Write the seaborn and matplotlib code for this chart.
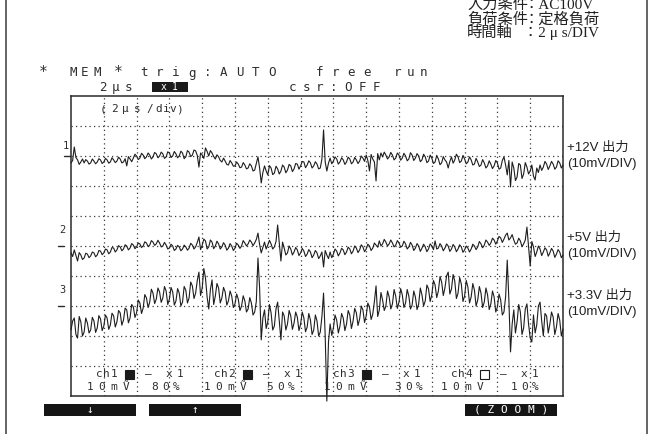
import numpy as np
import pandas as pd
import matplotlib
matplotlib.use("Agg")
import matplotlib.pyplot as plt
import seaborn as sns
from matplotlib.patches import Rectangle
from matplotlib.lines import Line2D

# ---------------- data (mV relative to each channel's ground marker) -------------
time_us = np.linspace(0, 30, 301)          # 2 us/div, 15 divisions, 0.1 us steps

ch1_mv = [-2.3, -1.5, 3.0, -0.5, -1.3, -2.8, -2.0, -1.0, -2.3, -1.2, -1.7, -2.7, -2.3, -1.0, -1.7, -2.6, -2.0, -0.9, -1.3, -2.5,
          -2.0, -0.8, -1.3, -2.4, -2.0, -0.6, -1.3, -2.2, -1.7, -0.4, -1.0, -2.3, -2.0, -0.9, -3.3, -0.2, -1.0, -1.9, -0.7, 0.6,
          0.0, -1.2, -0.7, 0.9, 0.3, -0.9, -0.3, 1.0, 0.3, -1.0, -0.3, 1.2, 0.7, -0.6, 0.0, 1.3, 0.7, -0.8, -0.3, 1.4,
          1.0, -0.5, 0.0, 1.5, 0.7, -0.6, 0.0, 1.6, 1.0, -0.9, -0.3, 1.8, 1.3, -0.2, 0.3, 2.0, 1.7, 0.2, -3.7, 1.0,
          0.3, -0.8, 2.7, 1.5, 0.0, 1.8, 1.0, -0.2, -1.0, 0.4, -0.3, -1.5, -2.0, -0.7, -1.7, -2.8, -3.0, -1.5, -2.3, -3.4,
          -3.3, -2.0, -2.7, -3.9, -3.7, -2.2, -3.0, -4.3, -4.0, -2.6, -3.3, -5.0, -4.7, -2.5, -0.3, -4.0, -9.0, -5.5, -3.3, -5.0,
          -6.3, -3.2, -4.0, -6.2, -5.7, -3.4, -4.3, -6.0, -5.0, -3.0, -3.7, -5.6, -4.7, -2.8, -3.3, -5.2, -4.3, -2.5, -2.7, -4.4,
          -3.3, -1.8, -2.0, -3.9, -3.0, -1.6, -2.3, -4.0, -3.3, -1.9, -2.7, -4.3, -4.0, -1.0, 8.7, -2.0, -5.0, -2.4, -0.7, -2.6,
          -1.7, -0.3, -1.0, -2.7, -2.0, -0.6, -1.3, -2.8, -2.0, -0.4, -1.0, -2.6, -2.0, -0.5, -1.3, -2.5, -1.7, 0.0, -0.7, -1.8,
          0.3, -1.5, -5.0, 0.5, -1.0, -2.0, -8.3, 0.8, -1.3, 1.0, -0.3, 1.3, 0.3, -1.0, -0.3, 1.2, 0.3, -1.3, -0.7, 1.0,
          0.3, -1.4, -0.7, 0.9, 0.0, -1.6, -1.0, 1.1, 0.3, -1.5, -0.7, 0.8, 0.0, -1.9, -1.3, 0.6, -0.3, -2.2, -1.7, 0.3,
          -0.7, -2.5, -2.0, 0.2, -1.0, -2.9, -2.3, -0.2, -1.3, -2.0, -4.0, -1.8, -0.3, -2.4, -1.3, 0.6, -0.3, -2.2, -1.7, 0.2,
          -1.0, -2.6, -2.0, -0.3, -1.3, -3.0, -2.7, -0.8, -2.0, -3.5, -3.0, -1.2, -2.3, -4.0, -3.3, -1.6, -2.7, -4.2, -3.3, -1.5,
          -2.3, -4.4, -4.0, -1.5, -0.3, -3.0, -6.3, -1.5, -10.3, -2.0, -4.0, -8.2, -7.0, -2.5, -3.0, -7.5, -6.0, -2.2, -3.7, -6.0,
          -5.0, -3.0, -6.7, -8.0, -4.0, -5.5, -3.0, -4.8, -3.7, -1.8, -2.7, -4.5, -3.3, -1.8, -2.7, -4.4, -3.7, -1.6, -2.3, -4.0,
          -3.0]

ch2_mv = [-2.3, -3.5, -1.3, -3.2, -5.0, -2.2, -3.0, -4.5, -4.0, -2.4, -2.7, -3.9, -3.3, -2.0, -2.3, -3.6, -3.0, -1.5, -1.7, -2.9,
          -2.3, -1.0, -1.3, -2.6, -2.0, -0.5, -0.7, -2.0, -1.3, 0.1, -0.3, -1.6, -1.0, 0.4, 0.0, -1.3, -0.7, 0.8, 0.3, -0.9,
          -0.3, 1.0, 0.7, -0.5, 0.0, 1.4, 1.0, -0.2, 0.3, 1.8, 1.3, 0.2, 0.7, 1.9, 1.0, -0.3, 0.0, 1.2, 0.3, -1.0,
          -0.7, 0.6, 0.0, -1.5, -1.0, 0.2, -0.3, -1.6, -1.0, 0.3, -0.3, -1.4, -0.7, 0.9, 0.3, -1.0, -0.3, 1.2, 3.0, -1.2,
          0.3, 2.3, 1.7, -1.0, -0.3, 2.0, 1.3, -0.9, 0.0, 1.6, 0.7, -1.0, -0.3, 1.1, 0.3, -1.4, -0.7, 0.8, 0.0, -1.5,
          -0.7, 0.9, 0.3, -0.8, 0.0, 1.8, 1.0, 0.0, 0.7, 2.0, 1.3, 0.1, 1.0, 2.2, 4.3, 0.5, -2.3, -0.5, 1.3, -1.0,
          0.3, 1.9, 0.7, -1.0, -0.3, 1.5, 7.0, 1.0, -5.0, 1.3, -0.7, -3.0, -2.3, 0.0, -1.0, -3.0, -2.0, -0.5, -1.3, -3.2,
          -2.3, -0.8, -1.7, -3.5, -2.7, -1.2, -2.0, -3.9, -3.0, -1.5, -2.3, -4.2, -3.3, -2.0, -7.0, -1.5, -3.0, -4.2, -2.0, -3.9,
          -2.7, -1.0, -1.7, -3.3, -2.3, -0.8, -1.3, -2.9, -2.0, -0.4, -1.0, -2.6, -1.7, 0.0, -0.7, -2.2, -1.3, 0.4, -0.3, -1.9,
          -1.0, 0.6, 0.0, -1.5, -0.7, 1.0, 0.3, -0.4, 1.7, 0.0, 0.7, 2.2, 1.3, 0.0, 0.7, 2.0, 1.0, -0.3, 0.3, 1.8,
          1.0, -0.4, 0.0, 1.6, 0.7, -1.0, -0.3, 1.2, 0.3, -1.5, -0.7, 0.8, 0.0, -1.8, -0.7, 0.6, -0.3, -1.9, -1.0, 0.7,
          0.0, -1.2, 1.7, -1.0, -0.7, 0.8, 0.0, -1.6, -0.7, 0.7, 0.0, -1.8, -1.0, 0.5, -0.3, -1.9, -1.0, 0.4, -0.3, -2.1,
          -1.3, 0.0, -0.7, -2.0, -1.0, 0.6, 0.0, -1.2, -0.3, 1.5, 0.7, -0.6, 0.3, 2.0, 1.3, 0.2, 1.0, 2.6, 2.0, 0.6,
          1.7, 3.2, 2.7, 1.2, 2.3, 3.6, 4.3, 2.0, 2.7, 3.8, 2.0, 0.6, 1.0, 2.6, 1.7, -0.2, 0.7, 2.0, 6.3, 0.0,
          -6.7, 1.5, -0.3, -3.5, -2.0, 0.0, -1.0, -3.2, -2.0, -0.6, -1.3, -3.4, -2.3, -0.8, -1.7, -3.8, -2.7, -1.2, -2.0, -3.9,
          -3.0]

ch3_mv = [-8.0, -5.0, -4.0, -9.5, -10.7, -3.5, -5.3, -10.0, -8.7, -4.0, -5.7, -9.0, -8.0, -3.8, -5.0, -8.8, -7.3, -3.2, -4.3, -8.2,
          -6.7, -3.0, -4.0, -7.8, -6.3, -2.4, -3.3, -7.0, -5.3, -1.5, -2.3, -6.4, -4.7, -0.7, -1.3, -5.6, -4.0, 0.5, -0.3, -3.8,
          -2.3, 2.0, 1.0, -2.5, -0.7, 3.8, 2.7, -0.5, 1.3, 5.6, 4.3, 0.8, 2.3, 6.0, 4.7, 1.2, 2.7, 6.5, 5.0, 0.5,
          2.3, 6.2, 4.7, 0.3, 1.7, 5.8, 4.3, 0.0, 1.3, 6.5, 5.3, 1.0, 2.7, 8.0, 6.7, 2.5, 4.3, 8.5, 11.3, 3.5,
          6.0, 12.5, 9.3, 3.0, -1.0, 5.5, 8.7, 0.5, 3.3, 7.5, 6.0, 1.0, 2.7, 6.2, 4.7, 0.3, 1.7, 5.0, 3.3, -0.5,
          0.7, 4.0, 2.3, -1.5, 0.0, 3.4, 1.7, -2.0, -1.0, 2.8, 1.0, -3.0, -2.0, 1.5, 16.0, 6.0, -11.3, -4.0, -1.3, -7.5,
          -5.3, 0.5, -2.3, -8.0, -6.7, -1.0, 1.3, -5.0, -11.3, -2.0, -3.3, -8.0, -6.0, -1.5, -3.3, -7.8, -5.7, -2.0, -3.7, -8.2,
          -6.0, -2.0, -4.0, -8.6, -7.0, -2.5, -4.7, -9.5, -8.0, -3.0, -5.0, -10.0, -8.7, -3.5, 4.3, -10.0, -31.7, -12.0, -6.0, -9.8,
          -7.3, -3.0, -4.7, -9.0, -6.7, -2.5, -4.0, -8.2, -6.0, -1.5, -3.0, -7.5, -5.0, -0.8, -2.3, -6.5, -4.3, 0.0, -1.3, -5.5,
          -3.3, 1.0, -0.3, -4.5, -2.7, 1.5, 6.7, -3.5, -1.3, 4.5, 2.0, -1.5, 0.0, 5.0, 3.0, -1.0, 0.7, 5.5, 3.3, -0.8,
          1.3, 5.8, 3.7, -0.5, 1.0, 5.5, 3.3, -1.0, 0.3, 5.0, 3.0, -1.2, 0.7, 6.0, 3.7, 0.0, 1.7, 7.0, 5.7, 1.5,
          3.7, 8.5, 7.0, 2.8, 5.0, 9.8, 8.0, 3.5, 6.0, 10.0, 11.3, 4.0, 5.7, 10.5, 8.3, 2.5, 4.3, 9.5, 7.3, 1.5,
          3.3, 8.5, 6.3, 1.0, 3.0, 7.5, 5.3, 0.0, 2.0, 6.5, 4.3, -0.5, 1.3, 6.0, 3.7, -1.2, 0.7, 5.0, 3.0, -2.0,
          -0.3, 4.0, 2.0, -3.0, -2.0, 3.0, 15.3, 2.0, -15.3, -6.0, -1.3, -9.0, -5.3, 0.5, -2.0, -9.5, -7.3, -1.0, 0.7, -6.0,
          -10.7, -12.0, -3.0, -9.0, -6.3, 0.0, 1.3, -5.0, -10.0, -2.5, -3.3, -9.0, -6.0, -2.0, -3.7, -9.5, -7.0, -2.5, -4.7, -10.0,
          -7.7]

channels = ["ch1", "ch2", "ch3"]
positions_pct = [80, 50, 30]               # ground marker position (% of screen)
volts_per_div_mv = 10
right_labels = [("+12V 出力", "(10mV/DIV)"), ("+5V 出力", "(10mV/DIV)"), ("+3.3V 出力", "(10mV/DIV)")]
info_lines = [("入力条件", "：AC100V"), ("負荷条件", "：定格負荷"), ("時間軸", "：2 μ s/DIV")]

# ---------------- figure ----------------
sns.set_theme(style="white")
plt.rcParams["font.family"] = ["DejaVu Sans", "Noto Sans CJK JP"]

W, H = 650, 434
fig = plt.figure(figsize=(6.5, 4.34), dpi=100)
fig.patch.set_facecolor("white")


def fx(x):
    return x / W


def fy(y):
    return 1 - y / H


ax = fig.add_axes([fx(71), fy(396), 492 / W, 300 / H])
ax.set_facecolor("white")

frames = []
for name, pos, mv in zip(channels, positions_pct, [ch1_mv, ch2_mv, ch3_mv]):
    frames.append(pd.DataFrame({"t": time_us,
                                "y": pos / 10 + np.array(mv) / volts_per_div_mv,
                                "ch": name}))
df = pd.concat(frames, ignore_index=True)

sns.lineplot(data=df, x="t", y="y", hue="ch", palette=["#1e1e1e"] * 3,
             estimator=None, sort=False, legend=False, lw=0.8, ax=ax, zorder=3)
for ln in ax.lines:
    ln.set_clip_on(False)

dot = (0, (1, 2.6))
for gx in range(2, 30, 2):
    ax.axvline(gx, ls=dot, lw=0.9, color="#3a3a3a", zorder=1)
for gy in range(1, 10):
    ax.axhline(gy, ls=dot, lw=0.9, color="#3a3a3a", zorder=1)

ax.set_xlim(0, 30)
ax.set_ylim(0, 10)
ax.set_xticks([])
ax.set_yticks([])
ax.set_xlabel("")
ax.set_ylabel("")
for s in ax.spines.values():
    s.set_visible(True)
    s.set_color("#2a2a2a")
    s.set_linewidth(1.1)

# outer page lines
for xx in (6, 647):
    fig.add_artist(Line2D([fx(xx), fx(xx)], [0, 1], color="#4a4a4a", lw=1.2))

TXT = "#2e2e2e"
MONO = ["DejaVu Sans Mono", "DejaVu Sans"]


def T(x, y, s, **kw):
    kw.setdefault("color", TXT)
    kw.setdefault("va", "center")
    return fig.text(fx(x), fy(y), s, **kw)


def spaced(x0, y, s, pitch, size=9, color=TXT):
    for i, c in enumerate(s):
        if c != " ":
            T(x0 + i * pitch, y, c, ha="center", size=size, family=MONO, color=color)


# top-right info
serif = ["Liberation Serif", "Noto Sans CJK JP"]
for i, (lab, val) in enumerate(info_lines):
    yb = 9 + i * 14
    T(467, yb, lab, ha="left", va="baseline", size=11, family=serif, color="#222")
    T(523, yb, val, ha="left", va="baseline", size=11, family=serif, color="#222")

# scope header
T(43, 72, "*", ha="center", size=10.5, family=MONO)
spaced(73, 73, "MEM", 12)
T(118, 72, "*", ha="center", size=10.5, family=MONO)
spaced(144, 73, "trig:AUTO", 16)
spaced(320, 73, "free", 15.5)
spaced(397, 73, "run", 13.5)
spaced(103, 87.5, "2μs", 12.5)
fig.add_artist(Rectangle((fx(152), fy(92)), 36 / W, 10 / H, transform=fig.transFigure,
                         facecolor="#1a1a1a", edgecolor="none"))
spaced(164, 87, "x1", 11, size=7, color="white")
spaced(292, 87.5, "csr:OFF", 14)

# (2us/div)
for c, xx in zip("(2μs/div)", [103, 114, 125, 137, 150, 159, 166, 173, 179]):
    T(xx, 109, c, ha="center", size=8, family=MONO)

# ground markers
for lab, lx, ly, gy, x0 in [("1", 66, 146, 156, 64), ("2", 62, 230, 246, 58), ("3", 62, 290, 306, 58)]:
    T(lx, ly, lab, ha="center", size=7.5, family=MONO)
    fig.add_artist(Line2D([fx(x0), fx(x0 + 6)], [fy(gy), fy(gy)], color="#2a2a2a", lw=1.0))

# right labels
for (l1, l2), y1 in zip(right_labels, [148, 238, 296]):
    T(567, y1, l1, ha="left", size=9.5, family=["Liberation Sans", "Noto Sans CJK JP"], color="#222")
    T(567, y1 + 16, l2, ha="left", size=9.5, family=["Liberation Sans", "Noto Sans CJK JP"], color="#222")

# channel info (bottom row inside screen)
ch_info = [("ch1", "10mṼ", "80%", True), ("ch2", "10mṼ", "50%", True),
           ("ch3", "10mṼ", "30%", True), ("ch4", "10mV", "10%", False)]
ch_x = [97, 215, 334, 452]
volt_x = [90, 207, 327, 444]
pct_x = [155, 270, 398, 514]
for (nm, vv, pc, filled), cx, vx, px in zip(ch_info, ch_x, volt_x, pct_x):
    spaced(cx + 2, 374, nm, 7.5, size=8)
    fig.add_artist(Rectangle((fx(cx + 28), fy(378.5)), 9 / W, 9 / H, transform=fig.transFigure,
                             facecolor="#1a1a1a" if filled else "white", edgecolor="#1a1a1a", lw=0.8))
    T(cx + 51, 374, "–", ha="center", size=8, family=MONO)
    spaced(cx + 72, 374, "x1", 11, size=8)
    spaced(vx, 387, vv, 12, size=8)
    spaced(px, 387, pc, 10.5, size=8)

# soft-key bars
for x0, x1, lab in [(44, 136, "↓"), (149, 241, "↑"), (465, 557, "( Z O O M )")]:
    fig.add_artist(Rectangle((fx(x0), fy(416)), (x1 - x0) / W, 12 / H, transform=fig.transFigure,
                             facecolor="#151515", edgecolor="none"))
    T((x0 + x1) / 2, 410, lab, ha="center", size=8, family=MONO, color="white")

fig.savefig("out.png", dpi=100)
